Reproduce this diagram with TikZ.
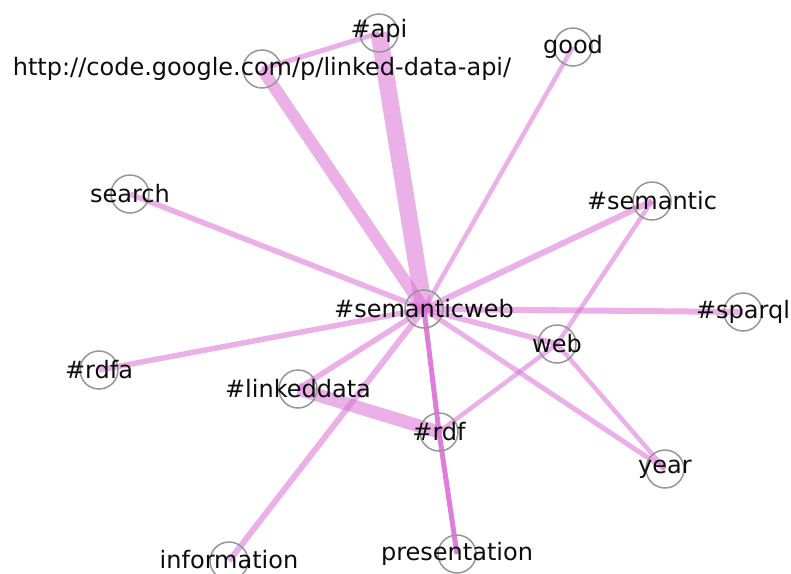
\documentclass[tikz,border=0pt]{standalone}
\usepackage{fontspec}
\setmainfont{DejaVu Sans}
\usetikzlibrary{backgrounds}
\definecolor{edgecol}{RGB}{218,112,214}
\definecolor{ringcol}{RGB}{150,150,150}
\tikzset{
  vtx/.style={circle, draw=ringcol, line width=1.5pt, minimum size=38pt, inner sep=0pt},
  lbl/.style={inner sep=0pt, font=\fontsize{24}{28}\selectfont, text=black!95},
  edge/.style={draw=edgecol, draw opacity=0.55, line cap=butt},
  darkedge/.style={draw=edgecol, draw opacity=0.9, line cap=butt},
}
\begin{document}
\begin{tikzpicture}[x=1pt,y=-1pt]
\useasboundingbox (0,0) rectangle (791,573);
% vertices
\node[vtx] (api) at (379,33) {};
\node[vtx] (http) at (262,69) {};
\node[vtx] (good) at (573,47) {};
\node[vtx] (search) at (130,194) {};
\node[vtx] (semantic) at (652,201) {};
\node[vtx] (sw) at (424,309) {};
\node[vtx] (sparql) at (743,312) {};
\node[vtx] (web) at (557,344) {};
\node[vtx] (rdfa) at (99,370) {};
\node[vtx] (ld) at (298,389) {};
\node[vtx] (rdf) at (439,432) {};
\node[vtx] (year) at (665,469) {};
\node[vtx] (info) at (229,561) {};
\node[vtx] (pres) at (457,554) {};
% labels
\node[lbl] (apiL) at (379,31) {\#api};
\node[lbl] (httpL) at (http) {http://code.google.com/p/linked-data-api/};
\node[lbl] (goodL) at (good) {good};
\node[lbl] (searchL) at (search) {search};
\node[lbl] (semanticL) at (semantic) {\#semantic};
\node[lbl] (swL) at (sw) {\#semanticweb};
\node[lbl] (sparqlL) at (sparql) {\#sparql};
\node[lbl] (webL) at (web) {web};
\node[lbl] (rdfaL) at (rdfa) {\#rdfa};
\node[lbl] (ldL) at (ld) {\#linkeddata};
\node[lbl] (rdfL) at (rdf) {\#rdf};
\node[lbl] (yearL) at (year) {year};
\node[lbl] (infoL) at (229,560) {information};
\node[lbl] (presL) at (pres) {presentation};
% edges
\begin{pgfonlayer}{background}
\draw[edge, line width=17pt] (sw.center) -- (api.center);
\draw[edge, line width=12pt] (sw.center) -- (http.center);
\draw[edge, line width=5pt] (api.center) -- (http.center);
\draw[edge, line width=4.5pt] (sw.center) -- (good.center);
\draw[edge, line width=5.5pt] (sw.center) -- (search.center);
\draw[edge, line width=6pt] (sw.center) -- (semantic.center);
\draw[edge, line width=6pt] (sw.center) -- (sparql.center);
\draw[edge, line width=5.5pt] (sw.center) -- (web.center);
\draw[edge, line width=5.5pt] (sw.center) -- (rdfa.center);
\draw[edge, line width=5.5pt] (sw.center) -- (ld.center);
\draw[edge, line width=6pt] (sw.center) -- (info.center);
\draw[edge, line width=5pt] (sw.center) -- (year.center);
\draw[darkedge, line width=5pt] (sw.center) -- (rdf.center);
\draw[darkedge, line width=5pt] (rdf.center) -- (pres.center);
\draw[edge, line width=13pt] (ld.center) -- (rdf.center);
\draw[edge, line width=4.5pt] (rdf.center) -- (web.center);
\draw[edge, line width=4.5pt] (web.center) -- (semantic.center);
\draw[edge, line width=4.5pt] (web.center) -- (year.center);
\end{pgfonlayer}
\end{tikzpicture}
\end{document}
